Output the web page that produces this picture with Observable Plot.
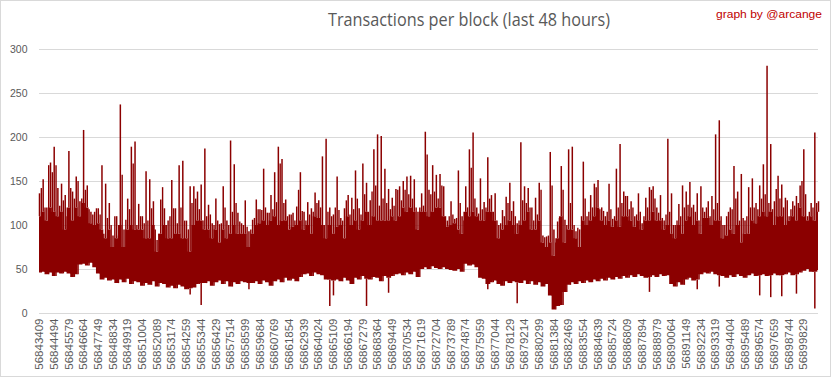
<!DOCTYPE html>
<html>
<head>
<meta charset="utf-8">
<script src="https://cdn.jsdelivr.net/npm/d3@7"></script>
<script src="https://cdn.jsdelivr.net/npm/@observablehq/plot@0.6"></script>
<style>
  html, body { margin: 0; padding: 0; background: #fff; }
  #chart { width: 833px; height: 379px; position: relative; }
</style>
</head>
<body>
<div id="chart"></div>
<script>
// ---- data ----
const titleText = "Transactions per block (last 48 hours)";
const creditText = "graph by @arcange";

const firstBlock = 56843409;     // first block shown
const sampleStep = 271.25;       // blocks between sampled columns (4 per x label)

const tickBlocks = [56843409, 56844494, 56845579, 56846664, 56847749, 56848834, 56849919, 56851004,
  56852089, 56853174, 56854259, 56855344, 56856429, 56857514, 56858599, 56859684, 56860769,
  56861854, 56862939, 56864024, 56865109, 56866194, 56867279, 56868364, 56869449, 56870534,
  56871619, 56872704, 56873789, 56874874, 56875959, 56877044, 56878129, 56879214, 56880299,
  56881384, 56882469, 56883554, 56884639, 56885724, 56886809, 56887894, 56888979, 56890064,
  56891149, 56892234, 56893319, 56894404, 56895489, 56896574, 56897659, 56898744, 56899829];

const yTicks = [0, 50, 100, 150, 200, 250, 300];

// highest spike in each sampled column
const hi = [
  136,152,120,171,189,142,147,134,184,138,
  155,127,208,145,115,115,119,168,147,125,
  88,110,237,95,130,189,195,124,110,161,
  152,127,83,129,119,105,151,119,168,173,
  105,144,144,138,146,187,123,102,130,101,
  144,105,196,169,114,102,128,93,106,129,
  118,164,114,134,160,189,175,129,112,114,
  121,160,115,126,119,137,128,178,198,120,
  112,155,108,119,134,131,162,119,170,148,
  128,186,203,201,164,141,131,141,144,150,
  155,156,152,115,136,206,140,168,157,158,
  144,105,127,107,162,110,144,186,205,120,
  153,126,177,134,136,100,117,132,148,127,
  102,194,144,142,120,131,148,88,87,183,
  95,104,167,106,186,189,93,95,172,110,
  134,147,151,120,110,147,107,164,192,138,
  133,127,110,136,102,131,143,144,120,134,
  105,198,136,100,124,145,138,149,123,136,
  144,115,127,133,203,219,100,110,120,167,
  138,158,105,143,153,125,145,169,281,192,
  127,156,146,131,110,127,133,145,186,110,
  125,205,127];

// spike halfway between sampled column i and i+1
const hiBetween = [
  142,120,168,160,168,122,128,110,142,130,
  150,130,140,118,112,119,112,90,108,100,
  110,88,157,106,118,170,100,110,102,105,
  119,95,90,143,100,110,119,102,120,105,
  95,125,130,118,105,110,112,100,105,102,
  120,100,115,125,104,100,98,95,108,118,
  117,120,114,118,126,170,125,110,112,105,
  140,116,105,112,115,125,120,100,115,110,
  120,117,105,128,112,118,130,112,135,115,
  138,145,122,130,125,118,122,140,128,140,
  135,130,120,120,122,180,135,138,130,145,
  110,110,112,108,125,105,120,165,130,113,
  118,120,130,115,105,102,110,125,116,110,
  105,128,125,120,105,112,140,86,88,145,
  80,108,140,100,125,100,97,110,130,115,
  120,143,118,116,115,118,110,120,125,133,
  118,120,112,115,110,120,140,130,114,108,
  112,115,100,105,110,120,123,120,115,105,
  120,120,110,118,125,110,100,115,118,130,
  105,108,110,120,120,118,130,135,125,118,
  141,130,120,128,118,122,125,150,135,115,
  120,125];

// top of the dense (solid) band in each sampled column
const mid = [
  110,115,105,120,115,110,115,95,120,105,
  120,110,125,120,102,100,102,95,85,95,
  75,85,100,75,95,100,95,95,95,85,
  85,100,70,90,100,85,85,90,90,85,
  85,70,100,105,105,95,95,85,95,80,
  95,85,90,100,90,90,90,75,90,100,
  102,105,100,105,110,100,105,105,95,98,
  100,105,95,100,90,110,108,100,85,100,
  90,98,100,85,110,100,105,95,105,115,
  100,110,105,105,105,105,110,105,110,120,
  115,120,115,95,115,115,110,115,120,120,
  110,98,100,102,95,90,115,110,115,110,
  105,105,115,115,105,85,95,100,105,100,
  90,100,105,115,95,95,105,80,75,80,
  65,85,110,80,95,95,85,75,105,100,
  105,110,120,105,100,105,98,105,98,110,
  110,105,98,105,95,105,105,115,105,105,
  95,100,90,85,100,90,105,110,100,105,
  90,108,108,100,105,105,85,88,95,90,
  100,80,90,90,105,102,110,115,110,115,
  100,110,110,100,105,110,105,120,110,105,
  110,105,115];

// bottom of the dense band in each sampled column
const lo = [
  46,47,44,46,42,46,45,47,45,41,
  44,55,56,54,57,52,45,38,40,37,
  38,34,38,35,39,33,36,35,31,34,
  32,36,30,34,33,29,31,28,32,30,
  27,28,29,33,34,34,36,31,35,37,
  33,36,30,35,33,36,35,34,34,36,
  33,37,35,31,36,38,35,40,37,39,
  36,41,44,45,42,46,44,43,38,38,
  37,38,36,40,37,33,40,38,42,39,
  38,41,40,36,42,40,42,44,45,43,
  46,44,47,41,50,52,50,53,51,50,
  52,50,49,48,50,47,56,54,55,52,
  40,39,33,35,37,33,31,36,34,36,
  35,34,37,33,36,32,35,30,33,20,
  4,8,9,24,32,35,33,36,34,37,
  35,38,36,39,37,40,38,41,39,42,
  40,43,41,44,42,40,41,43,41,44,
  42,43,33,30,35,32,38,40,37,38,
  44,46,45,47,44,43,42,40,43,41,
  44,42,40,43,45,42,43,44,42,43,
  45,43,43,44,46,43,44,46,48,50,
  47,47,49];

// isolated low blocks: sampled column and value
const dipColumn = [41, 44, 57, 79, 80, 89, 95, 122, 130, 166, 179, 185, 196, 199, 202, 206, 211];
const dipValue  = [21, 9, 27, 8, 20, 8, 23, 27, 11, 24, 27, 30, 20, 18, 19, 22, 5];

// ---- tables ----
const samples = hi.map((h, i) => ({block: firstBlock + i * sampleStep, hi: h, mid: mid[i], lo: lo[i]}));
const between = hiBetween.map((h, i) => ({block: firstBlock + (i + 0.5) * sampleStep, hi: h, lo: lo[i]}));
const dips = dipColumn.map((c, i) => ({block: firstBlock + c * sampleStep, low: dipValue[i], top: lo[c]}));

const red = "#8b0000";
const gray = "#595959";

const chart = Plot.plot({
  width: 833,
  height: 379,
  marginLeft: 39,
  marginRight: 15,
  marginTop: 49,
  marginBottom: 66,
  style: {fontFamily: "'Liberation Sans', Arial, sans-serif", color: gray, background: "#fff", overflow: "visible"},
  x: {domain: [firstBlock, firstBlock + (hi.length - 1) * sampleStep]},
  y: {domain: [0, 300]},
  marks: [
    Plot.ruleY(yTicks, {stroke: "#d9d9d9", strokeWidth: 1}),
    Plot.ruleX(samples, {x: "block", y1: "mid", y2: "hi", stroke: red, strokeWidth: 1.5}),
    Plot.ruleX(between, {x: "block", y1: "lo", y2: "hi", stroke: red, strokeWidth: 1.4}),
    Plot.ruleX(dips, {x: "block", y1: "low", y2: "top", stroke: red, strokeWidth: 1.5}),
    Plot.areaY(samples, {x: "block", y1: "lo", y2: "mid", fill: red, curve: "step"}),
    Plot.axisY({ticks: yTicks, tickSize: 0, tickPadding: 12, fontSize: 10.5, label: null}),
    Plot.axisX({ticks: tickBlocks, tickFormat: d => String(d), tickRotate: -90, tickSize: 0, tickPadding: 5, fontSize: 11.5, label: null})
  ]
});

const svg = d3.select(chart);
svg.insert("rect", ":first-child")
  .attr("x", 0.5).attr("y", 0.5).attr("width", 830).attr("height", 376)
  .attr("fill", "#fff").attr("stroke", "#d9d9d9");
svg.append("text")
  .attr("x", 328).attr("y", 26)
  .attr("text-anchor", "start")
  .attr("font-family", "'Liberation Sans Narrow', 'Open Sans', sans-serif")
  .attr("font-size", 18)
  .attr("fill", gray)
  .attr("textLength", 282).attr("lengthAdjust", "spacingAndGlyphs")
  .text(titleText);
svg.append("text")
  .attr("x", 716).attr("y", 17.5)
  .attr("text-anchor", "start")
  .attr("font-family", "'Liberation Sans', Arial, sans-serif")
  .attr("font-size", 11)
  .attr("fill", "#c00000")
  .attr("textLength", 106).attr("lengthAdjust", "spacingAndGlyphs")
  .text(creditText);

document.getElementById("chart").appendChild(chart);
</script>
</body>
</html>
